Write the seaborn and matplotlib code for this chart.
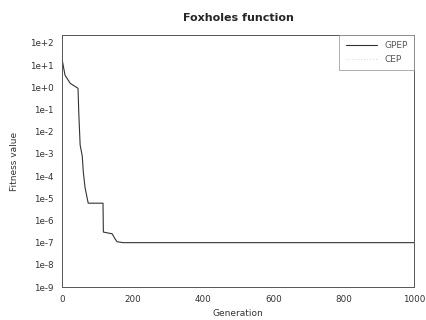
import numpy as np
import pandas as pd
import matplotlib
matplotlib.use("Agg")
import matplotlib.pyplot as plt
from matplotlib.lines import Line2D
import seaborn as sns

# Data (GPEP best fitness gap per generation)
generation = [0, 8, 23, 45, 47, 51, 57, 60, 65, 71, 74, 116, 117, 142, 150, 156, 173, 600, 1000]
gpep_fitness = [17, 3.5, 1.5, 0.9, 0.08, 0.0025, 0.0008, 0.00015, 3e-5, 1e-5, 6e-6, 6e-6,
                3e-7, 2.5e-7, 1.5e-7, 1.1e-7, 1.0e-7, 1.0e-7, 1.0e-7]
series_names = ["GPEP", "CEP"]
x_ticks = [0, 200, 400, 600, 800, 1000]
y_ticks_exp = [2, 1, 0, -1, -2, -3, -4, -5, -6, -7, -8, -9]

df = pd.DataFrame({"Generation": generation, "Fitness": gpep_fitness,
                   "Algorithm": series_names[0]})

sns.set_style("white")
plt.rcParams["font.family"] = ["DejaVu Sans"]

fig = plt.figure(figsize=(4.26, 3.2), dpi=100)
ax = fig.add_axes([0.146, 0.103, 0.826, 0.788])

sns.lineplot(data=df, x="Generation", y="Fitness", color="#333333", linewidth=0.8,
             ax=ax, legend=False)
ax.set_yscale("log")
ax.set_xlim(0, 1000)
ax.set_ylim(1e-9, 2.3e2)
ax.set_xticks(x_ticks)
ax.set_xticklabels([str(t) for t in x_ticks], fontsize=6.3, color="#333333")
ax.set_yticks([10.0 ** e for e in y_ticks_exp])
ax.set_yticklabels([f"1e{e:+d}" for e in y_ticks_exp], fontsize=6.3, color="#333333")
ax.minorticks_off()
ax.tick_params(direction="in", length=3, width=0.6, colors="#333333", pad=6)
for s in ax.spines.values():
    s.set_color("#555555")
    s.set_linewidth(0.7)

ax.set_xlabel("Generation", fontsize=6.5, color="#333333", labelpad=3)
ax.set_ylabel("Fitness value", fontsize=6.5, color="#333333", labelpad=8)
ax.set_title("Foxholes function", fontsize=8, fontweight="bold", pad=10)

handles = [Line2D([], [], color="#333333", linewidth=0.8),
           Line2D([], [], color="#dddddd", linewidth=0.8, linestyle=":")]
leg = ax.legend(handles, series_names, loc="upper right", fontsize=6.5, frameon=True,
                fancybox=False, borderaxespad=0, handlelength=3.5, borderpad=0.7,
                labelcolor="#555555")
leg.get_frame().set_edgecolor("#888888")
leg.get_frame().set_linewidth(0.6)

fig.savefig("out.png", dpi=100)
